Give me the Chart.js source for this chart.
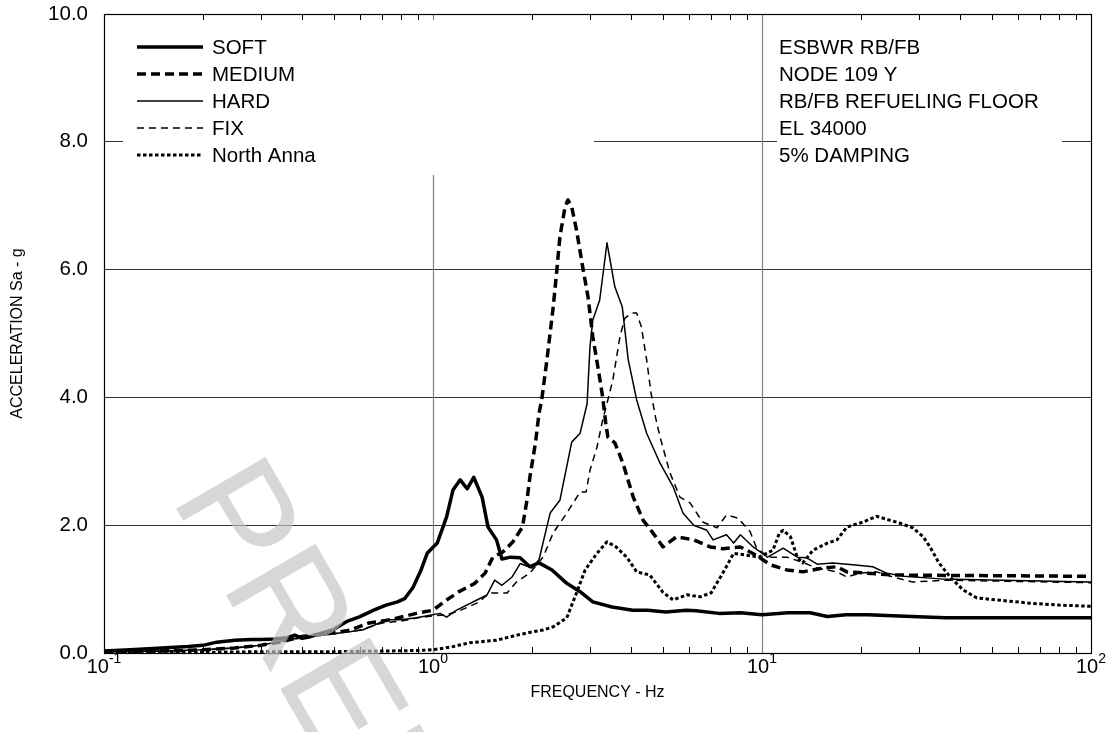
<!DOCTYPE html>
<html>
<head>
<meta charset="utf-8">
<script src="https://cdn.jsdelivr.net/npm/chart.js@4.4.1/dist/chart.umd.min.js"></script>
<style>
  html, body { margin: 0; padding: 0; background: #fff; }
  #wrap { width: 1113px; height: 732px; }
</style>
</head>
<body>
<div id="wrap"><canvas id="chart" width="1113" height="732"></canvas></div>
<script>
// series values (frequency in Hz, acceleration in g)
const softFreq = [0.1, 0.12, 0.15, 0.18, 0.2, 0.22, 0.25, 0.28, 0.3, 0.33, 0.36, 0.38, 0.4, 0.42, 0.45, 0.5, 0.55, 0.6, 0.66, 0.72, 0.78, 0.82, 0.87, 0.92, 0.96, 1.03, 1.1, 1.15, 1.21, 1.27, 1.33, 1.41, 1.47, 1.56, 1.62, 1.72, 1.84, 1.97, 2.1, 2.3, 2.55, 2.8, 3.06, 3.5, 4.05, 4.5, 5.1, 5.9, 6.3, 7.4, 8.6, 10, 12, 14, 15.8, 18, 21, 26, 36, 100];
const softAcc = [0.03, 0.05, 0.08, 0.1, 0.12, 0.17, 0.2, 0.21, 0.21, 0.22, 0.24, 0.28, 0.23, 0.25, 0.3, 0.37, 0.5, 0.57, 0.67, 0.75, 0.8, 0.85, 1.03, 1.3, 1.56, 1.72, 2.13, 2.55, 2.71, 2.57, 2.75, 2.44, 1.97, 1.77, 1.47, 1.5, 1.49, 1.35, 1.41, 1.3, 1.09, 0.96, 0.8, 0.72, 0.67, 0.67, 0.64, 0.67, 0.66, 0.62, 0.63, 0.6, 0.63, 0.63, 0.57, 0.6, 0.6, 0.58, 0.55, 0.55];

const mediumFreq = [0.1, 0.15, 0.2, 0.25, 0.3, 0.35, 0.4, 0.45, 0.49, 0.56, 0.64, 0.74, 0.89, 1.0, 1.1, 1.2, 1.34, 1.44, 1.52, 1.63, 1.75, 1.87, 1.93, 1.97, 2.05, 2.1, 2.14, 2.22, 2.32, 2.38, 2.43, 2.52, 2.57, 2.64, 2.73, 2.86, 2.96, 3.06, 3.17, 3.28, 3.35, 3.4, 3.57, 3.78, 4.06, 4.35, 4.66, 5.0, 5.5, 6.2, 6.96, 7.6, 8.6, 9.6, 10.6, 11.9, 13.3, 15.3, 16.9, 18.1, 20.8, 25, 100];
const mediumAcc = [0.02, 0.03, 0.05, 0.08, 0.12, 0.18, 0.26, 0.29, 0.31, 0.36, 0.47, 0.52, 0.62, 0.67, 0.83, 0.96, 1.09, 1.25, 1.5, 1.58, 1.74, 1.97, 2.39, 2.75, 3.3, 3.75, 3.96, 4.59, 5.42, 6.0, 6.51, 6.98, 7.09, 6.98, 6.62, 6.0, 5.57, 4.95, 4.48, 4.0, 3.6, 3.38, 3.29, 2.97, 2.44, 2.08, 1.88, 1.66, 1.82, 1.77, 1.66, 1.63, 1.66, 1.53, 1.38, 1.3, 1.27, 1.33, 1.35, 1.27, 1.25, 1.22, 1.2];

const hardFreq = [0.1, 0.15, 0.2, 0.25, 0.3, 0.35, 0.4, 0.45, 0.5, 0.55, 0.61, 0.66, 0.72, 0.8, 0.89, 0.98, 1.05, 1.1, 1.18, 1.36, 1.46, 1.54, 1.62, 1.74, 1.84, 2.0, 2.1, 2.27, 2.43, 2.64, 2.8, 2.94, 3.0, 3.06, 3.21, 3.38, 3.57, 3.76, 3.92, 4.16, 4.46, 4.9, 5.37, 5.75, 6.2, 6.8, 7.1, 7.8, 8.2, 8.6, 9.4, 10.4, 11.6, 12.8, 13.7, 14.7, 16.4, 18.9, 21.7, 23.9, 27, 35, 100];
const hardAcc = [0.02, 0.03, 0.05, 0.08, 0.12, 0.19, 0.25, 0.28, 0.3, 0.33, 0.36, 0.43, 0.52, 0.52, 0.55, 0.59, 0.62, 0.56, 0.67, 0.83, 0.91, 1.14, 1.06, 1.19, 1.4, 1.33, 1.46, 2.19, 2.39, 3.3, 3.44, 3.9, 4.79, 5.21, 5.52, 6.42, 5.73, 5.42, 4.59, 3.96, 3.44, 2.97, 2.6, 2.19, 2.0, 1.92, 1.77, 1.85, 1.72, 1.85, 1.66, 1.5, 1.64, 1.5, 1.49, 1.39, 1.41, 1.38, 1.35, 1.25, 1.2, 1.16, 1.11];

const fixFreq = [0.1, 0.15, 0.2, 0.25, 0.3, 0.35, 0.4, 0.5, 0.6, 0.7, 0.8, 0.9, 1.0, 1.1, 1.2, 1.36, 1.49, 1.68, 1.8, 1.97, 2.16, 2.32, 2.55, 2.8, 2.92, 3.0, 3.15, 3.28, 3.4, 3.52, 3.7, 3.83, 4.02, 4.16, 4.3, 4.46, 4.6, 4.75, 4.9, 5.25, 5.63, 6.04, 6.6, 7.3, 7.8, 8.45, 9.2, 9.6, 10.4, 11.9, 13.1, 14.7, 16.9, 18.1, 19.8, 22.3, 25, 28.7, 36, 100];
const fixAcc = [0.02, 0.03, 0.05, 0.08, 0.12, 0.18, 0.24, 0.3, 0.36, 0.47, 0.5, 0.55, 0.58, 0.6, 0.66, 0.78, 0.94, 0.94, 1.12, 1.25, 1.5, 1.88, 2.19, 2.52, 2.52, 2.86, 3.22, 3.65, 3.96, 4.27, 4.95, 5.24, 5.32, 5.32, 5.1, 4.59, 4.07, 3.68, 3.38, 2.82, 2.44, 2.35, 2.05, 1.96, 2.16, 2.11, 1.9, 1.66, 1.5, 1.5, 1.43, 1.33, 1.27, 1.19, 1.25, 1.27, 1.19, 1.11, 1.14, 1.1];

const annaFreq = [0.1, 0.2, 0.3, 0.5, 0.7, 0.9, 1.0, 1.15, 1.29, 1.56, 1.8, 2.0, 2.16, 2.32, 2.55, 2.73, 2.9, 3.15, 3.38, 3.6, 3.88, 4.16, 4.56, 5.0, 5.37, 5.9, 6.5, 7.0, 7.6, 8.2, 9.0, 9.8, 10.8, 11.3, 11.6, 12.2, 12.8, 13.3, 14.3, 15.8, 16.9, 18.1, 20.3, 22.3, 24.4, 26.3, 28.7, 30.9, 32.4, 34.5, 37.3, 40.8, 45, 52, 65, 80, 100];
const annaAcc = [0.01, 0.01, 0.02, 0.02, 0.03, 0.04, 0.05, 0.1, 0.16, 0.2, 0.28, 0.33, 0.36, 0.41, 0.55, 0.94, 1.3, 1.56, 1.74, 1.66, 1.5, 1.27, 1.22, 0.95, 0.83, 0.91, 0.88, 0.94, 1.25, 1.56, 1.53, 1.5, 1.61, 1.88, 1.92, 1.82, 1.5, 1.41, 1.61, 1.72, 1.77, 1.97, 2.05, 2.14, 2.08, 2.03, 1.96, 1.82, 1.66, 1.41, 1.19, 0.99, 0.86, 0.83, 0.78, 0.75, 0.73];

const seriesNames = ["SOFT", "MEDIUM", "HARD", "FIX", "North Anna"];
const noteLines = ["ESBWR RB/FB", "NODE 109 Y", "RB/FB REFUELING FLOOR", "EL 34000", "5% DAMPING"];
const yTicks = [0, 2, 4, 6, 8, 10];
const decades = [-1, 0, 1, 2];

const FONT = "'Liberation Sans', Arial, sans-serif";

// line looks per series
const styles = [
  { width: 3.5, dash: [] },
  { width: 3.5, dash: [9, 5] },
  { width: 1.5, dash: [] },
  { width: 1.5, dash: [7, 5] },
  { width: 3, dash: [3.5, 2.5] },
];

function toPoints(fr, acc) {
  return fr.map((f, i) => ({ x: f, y: acc[i] }));
}

const allFreq = [softFreq, mediumFreq, hardFreq, fixFreq, annaFreq];
const allAcc = [softAcc, mediumAcc, hardAcc, fixAcc, annaAcc];

const datasets = seriesNames.map((name, i) => ({
  label: name,
  data: toPoints(allFreq[i], allAcc[i]),
  borderColor: "#000",
  borderWidth: styles[i].width,
  borderDash: styles[i].dash,
  borderJoinStyle: "round",
  pointRadius: 0,
  tension: 0,
  fill: false,
}));

// grid, minor ticks, frame, legend and note box
const decorPlugin = {
  id: "decor",
  beforeDatasetsDraw(chart) {
    const ctx = chart.ctx;
    const a = chart.chartArea;
    const xs = chart.scales.x;
    ctx.save();

    // major vertical lines
    ctx.strokeStyle = "#808080";
    ctx.lineWidth = 1.2;
    [1, 10].forEach((v) => {
      const px = Math.round(xs.getPixelForValue(v)) + 0.5;
      ctx.beginPath();
      ctx.moveTo(px, a.top);
      ctx.lineTo(px, a.bottom);
      ctx.stroke();
    });

    // white boxes behind legend and note text
    ctx.fillStyle = "#fff";
    ctx.fillRect(123, a.top + 6, 594 - 123, 175 - a.top - 6);
    ctx.fillRect(777, a.top + 6, 1062 - 777, 175 - a.top - 6);

    // minor ticks top and bottom
    ctx.strokeStyle = "#000";
    ctx.lineWidth = 1;
    for (let k = -1; k <= 1; k++) {
      for (let m = 2; m <= 9; m++) {
        const px = Math.round(xs.getPixelForValue(m * Math.pow(10, k))) + 0.5;
        ctx.beginPath();
        ctx.moveTo(px, a.bottom);
        ctx.lineTo(px, a.bottom - 6);
        ctx.moveTo(px, a.top);
        ctx.lineTo(px, a.top + 6);
        ctx.stroke();
      }
    }

    // frame
    ctx.strokeStyle = "#000";
    ctx.lineWidth = 1.2;
    ctx.strokeRect(a.left + 0.5, a.top + 0.5, a.right - a.left, a.bottom - a.top);

    // legend
    const rowY = [47, 74, 101, 128, 155];
    ctx.font = "20.5px " + FONT;
    ctx.fillStyle = "#000";
    ctx.textBaseline = "middle";
    ctx.textAlign = "left";
    seriesNames.forEach((name, i) => {
      ctx.beginPath();
      ctx.lineWidth = styles[i].width;
      ctx.setLineDash(styles[i].dash);
      ctx.moveTo(137, rowY[i]);
      ctx.lineTo(203, rowY[i]);
      ctx.stroke();
      ctx.setLineDash([]);
      ctx.fillText(name, 212, rowY[i] + 1);
    });

    // note text
    noteLines.forEach((t, i) => {
      ctx.fillText(t, 779, rowY[i] + 1);
    });
    ctx.restore();
  },
  afterDraw(chart) {
    const ctx = chart.ctx;
    const a = chart.chartArea;
    const xs = chart.scales.x;

    // watermark, drawn on its own layer then blended over the plot
    const off = document.createElement("canvas");
    off.width = chart.width;
    off.height = chart.height;
    const o = off.getContext("2d");
    o.translate(170, 498);
    o.rotate((60 * Math.PI) / 180);
    o.font = "150px " + FONT;
    o.fillStyle = "rgb(196,196,196)";
    o.fillText("PRELIMINARY", 0, 0);
    ctx.save();
    ctx.globalAlpha = 0.67;
    ctx.drawImage(off, 0, 0);
    ctx.restore();

    ctx.save();
    ctx.fillStyle = "#000";
    ctx.textBaseline = "alphabetic";
    ctx.textAlign = "left";

    // x tick labels as 10 with a raised exponent
    decades.forEach((e) => {
      const px = xs.getPixelForValue(Math.pow(10, e));
      const exp = String(e);
      ctx.font = "20px " + FONT;
      const w1 = ctx.measureText("10").width;
      ctx.font = "14px " + FONT;
      const w2 = ctx.measureText(exp).width;
      const x0 = px - (w1 + w2) / 2;
      ctx.font = "20px " + FONT;
      ctx.fillText("10", x0, 673);
      ctx.font = "14px " + FONT;
      ctx.fillText(exp, x0 + w1, 663);
    });

    // axis titles
    ctx.font = "16px " + FONT;
    ctx.textAlign = "center";
    ctx.textBaseline = "middle";
    ctx.fillText("FREQUENCY - Hz", (a.left + a.right) / 2, 693);
    ctx.translate(18, (a.top + a.bottom) / 2);
    ctx.rotate(-Math.PI / 2);
    ctx.fillText("ACCELERATION Sa - g", 0, 0);
    ctx.restore();
  },
};

new Chart(document.getElementById("chart"), {
  type: "line",
  data: { datasets: datasets },
  options: {
    responsive: false,
    devicePixelRatio: 1,
    animation: false,
    layout: { padding: { top: 14, right: 22, left: 0, bottom: 0 } },
    plugins: { legend: { display: false }, tooltip: { enabled: false } },
    scales: {
      x: {
        type: "logarithmic",
        min: 0.1,
        max: 100,
        grid: { display: false },
        border: { display: false },
        ticks: { display: false },
        afterFit: (s) => { s.height = 79; s.paddingLeft = 0; s.paddingRight = 0; },
      },
      y: {
        min: 0,
        max: 10,
        afterBuildTicks: (s) => { s.ticks = yTicks.map((v) => ({ value: v })); },
        ticks: {
          callback: (v) => Number(v).toFixed(1),
          font: { family: FONT, size: 20.5 },
          color: "#000",
          padding: 16,
        },
        grid: { color: "#333", drawTicks: false, lineWidth: 1 },
        border: { display: false },
        afterFit: (s) => { s.width = 104; s.paddingTop = 0; s.paddingBottom = 0; },
      },
    },
  },
  plugins: [decorPlugin],
});
</script>
</body>
</html>
